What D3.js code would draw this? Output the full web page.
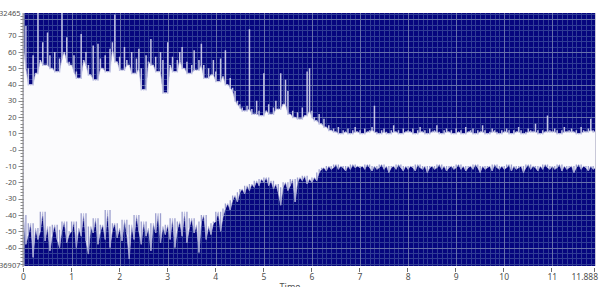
<!DOCTYPE html>
<html>
<head>
<meta charset="utf-8">
<script src="https://cdn.jsdelivr.net/npm/d3@7"></script>
<style>
  body { margin: 0; background: #fff; }
  text { font-family: "Noto Sans", "DejaVu Sans", sans-serif; fill: #505050; }
</style>
</head>
<body>
<svg id="my_svg"></svg>
<script>
const width = 602;
const height = 287;

// one value every 0.05 s, upper and lower envelope of the waveform
const sampleStep = 0.05;
const timeMax = 11.888;
const upperEnv = [
    62, 76, 50, 40, 58, 47, 84, 55, 66, 52, 72, 58, 50, 60, 48, 56, 84, 60, 69, 54,
    52, 58, 48, 44, 71, 55, 60, 52, 46, 64, 43, 65, 56, 50, 58, 48, 62, 66, 83, 54,
    57, 49, 63, 55, 52, 60, 47, 56, 62, 50, 37, 58, 54, 68, 52, 57, 48, 60, 55, 35,
    66, 52, 57, 48, 55, 60, 63, 50, 54, 47, 52, 61, 49, 55, 65, 52, 44, 50, 46, 55,
    48, 42, 56, 45, 61, 40, 44, 38, 36, 30, 28, 26, 24, 27, 74, 25, 22, 30, 24, 21,
    47, 24, 28, 22, 26, 30, 25, 47, 28, 43, 36, 22, 24, 20, 23, 19, 26, 21, 48, 50,
    24, 20, 18, 22, 16, 19, 14, 15, 12, 13, 11, 14, 10, 12, 11, 13, 10, 12, 14, 11,
    12, 10, 13, 11, 12, 14, 27, 11, 10, 12, 13, 11, 10, 12, 15, 11, 12, 10, 13, 11,
    12, 11, 13, 10, 12, 14, 11, 12, 10, 13, 11, 12, 15, 11, 10, 12, 13, 11, 12, 10,
    13, 11, 12, 10, 14, 11, 12, 13, 10, 12, 11, 15, 12, 10, 11, 13, 12, 11, 10, 12,
    11, 13, 12, 10, 12, 11, 14, 12, 10, 11, 13, 12, 11, 16, 12, 10, 12, 11, 21, 12,
    11, 13, 12, 10, 12, 14, 11, 12, 13, 11, 12, 10, 14, 12, 11, 13, 19, 12, 11
];
const lowerEnv = [
    -40, -58, -52, -45, -66, -48, -55, -50, -38, -56, -47, -62, -52, -46, -55, -60, -49, -44, -57, -52,
    -50, -44, -60, -48, -53, -39, -56, -64, -47, -51, -42, -58, -50, -46, -55, -37, -60, -49, -45, -54,
    -48, -56, -43, -52, -67, -46, -55, -40, -50, -58, -44, -53, -48, -62, -45, -51, -39, -57, -47, -52,
    -46, -55, -42, -60, -49, -44, -53, -38, -57, -48, -42, -51, -46, -63, -44, -40, -55, -47, -52, -45,
    -44, -38, -50, -41, -36, -33, -37, -31, -28, -32, -26, -24, -27, -22, -25, -21, -23, -19, -22, -18,
    -20, -17, -22, -19, -24, -21, -26, -34, -23, -20, -25, -22, -18, -32, -20, -17, -19, -16, -21, -18,
    -20, -17, -19, -14, -12, -11, -13, -10, -12, -11, -9, -12, -10, -11, -13, -10, -12, -9, -11, -10,
    -11, -10, -12, -9, -11, -13, -10, -12, -11, -9, -12, -10, -14, -11, -10, -12, -9, -11, -13, -10,
    -12, -10, -11, -13, -9, -11, -12, -10, -14, -11, -10, -12, -11, -9, -12, -10, -13, -11, -10, -12,
    -11, -9, -12, -10, -13, -11, -10, -12, -9, -11, -14, -10, -12, -11, -10, -13, -9, -11, -12, -10,
    -12, -11, -9, -13, -10, -12, -11, -10, -14, -11, -9, -12, -10, -11, -13, -10, -12, -9, -11, -12,
    -10, -12, -11, -9, -13, -10, -12, -11, -10, -14, -11, -9, -12, -10, -11, -13, -10, -12, -11
];
const yTickValues = [70, 60, 50, 40, 30, 20, 10, 0, -10, -20, -30, -40, -50, -60];
const xTickValues = [0, 1, 2, 3, 4, 5, 6, 7, 8, 9, 10, 11, 11.888];
const yTopLabel = "32465";
const yBottomLabel = "-36907";

const svg = d3.select('#my_svg')
    .attr('width', width)
    .attr('height', height);

const x = d3.scaleLinear().domain([0, timeMax]).range([23.5, 595]);
const y = d3.scaleLinear().domain([-71.3, 83.9]).range([266, 13]);

const [x0, x1] = x.range();
const [yb, yt] = y.range();

svg.append('clipPath').attr('id', 'plot_clip')
    .append('rect')
    .attr('x', x0).attr('y', yt)
    .attr('width', x1 - x0).attr('height', yb - yt);

const plot = svg.append('g').attr('clip-path', 'url(#plot_clip)');

// navy background
plot.append('rect')
    .attr('x', x0).attr('y', yt)
    .attr('width', x1 - x0).attr('height', yb - yt)
    .attr('fill', '#06067e');

// grid: minor every 0.1 s / 20/6 units, major every 1 s / 20 units
const grid = plot.append('g');
grid.selectAll('.vminor')
    .data(d3.range(0, timeMax, 0.1))
    .enter().append('line')
    .attr('x1', d => Math.round(x(d)) + 0.5).attr('x2', d => Math.round(x(d)) + 0.5)
    .attr('y1', yt).attr('y2', yb)
    .attr('stroke', '#313d96').attr('stroke-width', 1);
grid.selectAll('.hminor')
    .data(d3.range(-80, 90, 20 / 6))
    .enter().append('line')
    .attr('x1', x0).attr('x2', x1)
    .attr('y1', d => Math.round(y(d)) + 0.5).attr('y2', d => Math.round(y(d)) + 0.5)
    .attr('stroke', '#313d96').attr('stroke-width', 1);
grid.selectAll('.vmajor')
    .data(d3.range(0, 12, 1))
    .enter().append('line')
    .attr('x1', d => Math.round(x(d)) + 0.5).attr('x2', d => Math.round(x(d)) + 0.5)
    .attr('y1', yt).attr('y2', yb)
    .attr('stroke', '#6670aa').attr('stroke-width', 1);
grid.selectAll('.hmajor')
    .data(d3.range(-60, 90, 20))
    .enter().append('line')
    .attr('x1', x0).attr('x2', x1)
    .attr('y1', d => Math.round(y(d)) + 0.5).attr('y2', d => Math.round(y(d)) + 0.5)
    .attr('stroke', '#6670aa').attr('stroke-width', 1);

// waveform: solid white body, lavender peaks above, grey-blue dips below
const samples = upperEnv.map((u, i) => ({ t: i * sampleStep, hi: u, lo: lowerEnv[i] }));
samples.forEach((d, i) => {
    const win = samples.slice(Math.max(0, i - 1), i + 2);
    d.hiSolid = d3.min(win, s => s.hi);
    d.loTop = d3.max(win, s => s.lo);
});

const solidArea = d3.area()
    .x(d => x(d.t))
    .y0(d => y(d.lo))
    .y1(d => y(d.hiSolid));

plot.append('path')
    .datum(samples)
    .attr('d', solidArea)
    .attr('fill', '#fbfbfd')
    .attr('stroke', '#c4c6e4')
    .attr('stroke-width', 0.7);

const peaks = plot.append('g');
peaks.selectAll('.peak_hi')
    .data(samples)
    .enter().append('line')
    .attr('x1', d => x(d.t)).attr('x2', d => x(d.t))
    .attr('y1', d => y(d.hiSolid) + 1).attr('y2', d => y(d.hi))
    .attr('stroke', '#c2c4e4').attr('stroke-width', 1.5);
peaks.selectAll('.peak_lo')
    .data(samples)
    .enter().append('line')
    .attr('x1', d => x(d.t)).attr('x2', d => x(d.t))
    .attr('y1', d => y(d.lo)).attr('y2', d => y(d.loTop))
    .attr('stroke', '#9c9fcf').attr('stroke-width', 1.3);

// right border
svg.append('line')
    .attr('x1', x1 + 0.5).attr('x2', x1 + 0.5)
    .attr('y1', yt).attr('y2', yb)
    .attr('stroke', '#c8c8d8');

// y axis
const yAxis = svg.append('g');
yAxis.append('line')
    .attr('x1', x0 - 0.5).attr('x2', x0 - 0.5)
    .attr('y1', yt).attr('y2', yb + 1)
    .attr('stroke', '#8a8a8a');
yAxis.selectAll('.yminor')
    .data(d3.range(-70, 84, 2))
    .enter().append('line')
    .attr('x1', x0 - 3).attr('x2', x0)
    .attr('y1', d => Math.round(y(d)) + 0.5).attr('y2', d => Math.round(y(d)) + 0.5)
    .attr('stroke', '#8a8a8a');
yAxis.selectAll('.ymajor')
    .data(yTickValues)
    .enter().append('line')
    .attr('x1', x0 - 5).attr('x2', x0)
    .attr('y1', d => Math.round(y(d)) + 0.5).attr('y2', d => Math.round(y(d)) + 0.5)
    .attr('stroke', '#8a8a8a');
yAxis.selectAll('.ylabel')
    .data(yTickValues)
    .enter().append('text')
    .attr('x', x0 - 7)
    .attr('y', d => y(d))
    .attr('dy', '0.35em')
    .attr('text-anchor', 'end')
    .attr('font-size', 7.5)
    .text(d => d === 0 ? '-0' : d);
yAxis.append('text')
    .attr('x', x0 - 3).attr('y', yt)
    .attr('dy', '0.35em').attr('text-anchor', 'end')
    .attr('font-size', 7.5)
    .text(yTopLabel);
yAxis.append('text')
    .attr('x', x0 - 3).attr('y', yb - 1)
    .attr('dy', '0.35em').attr('text-anchor', 'end')
    .attr('font-size', 7.5)
    .text(yBottomLabel);

// x axis
const xAxis = svg.append('g');
xAxis.selectAll('.xtick')
    .data(xTickValues)
    .enter().append('line')
    .attr('x1', d => Math.round(x(d)) - 0.5).attr('x2', d => Math.round(x(d)) - 0.5)
    .attr('y1', yb + 2).attr('y2', yb + 6)
    .attr('stroke', '#707070');
xAxis.selectAll('.xlabel')
    .data(xTickValues)
    .enter().append('text')
    .attr('x', d => x(d))
    .attr('y', yb + 14)
    .attr('text-anchor', d => d === timeMax ? 'end' : 'middle')
    .attr('dx', d => d === timeMax ? 3 : 0)
    .attr('font-size', 8.5)
    .text(d => d);
svg.append('text')
    .attr('x', 290).attr('y', 290)
    .attr('text-anchor', 'middle')
    .attr('font-size', 9)
    .text('Time');
</script>
</body>
</html>
